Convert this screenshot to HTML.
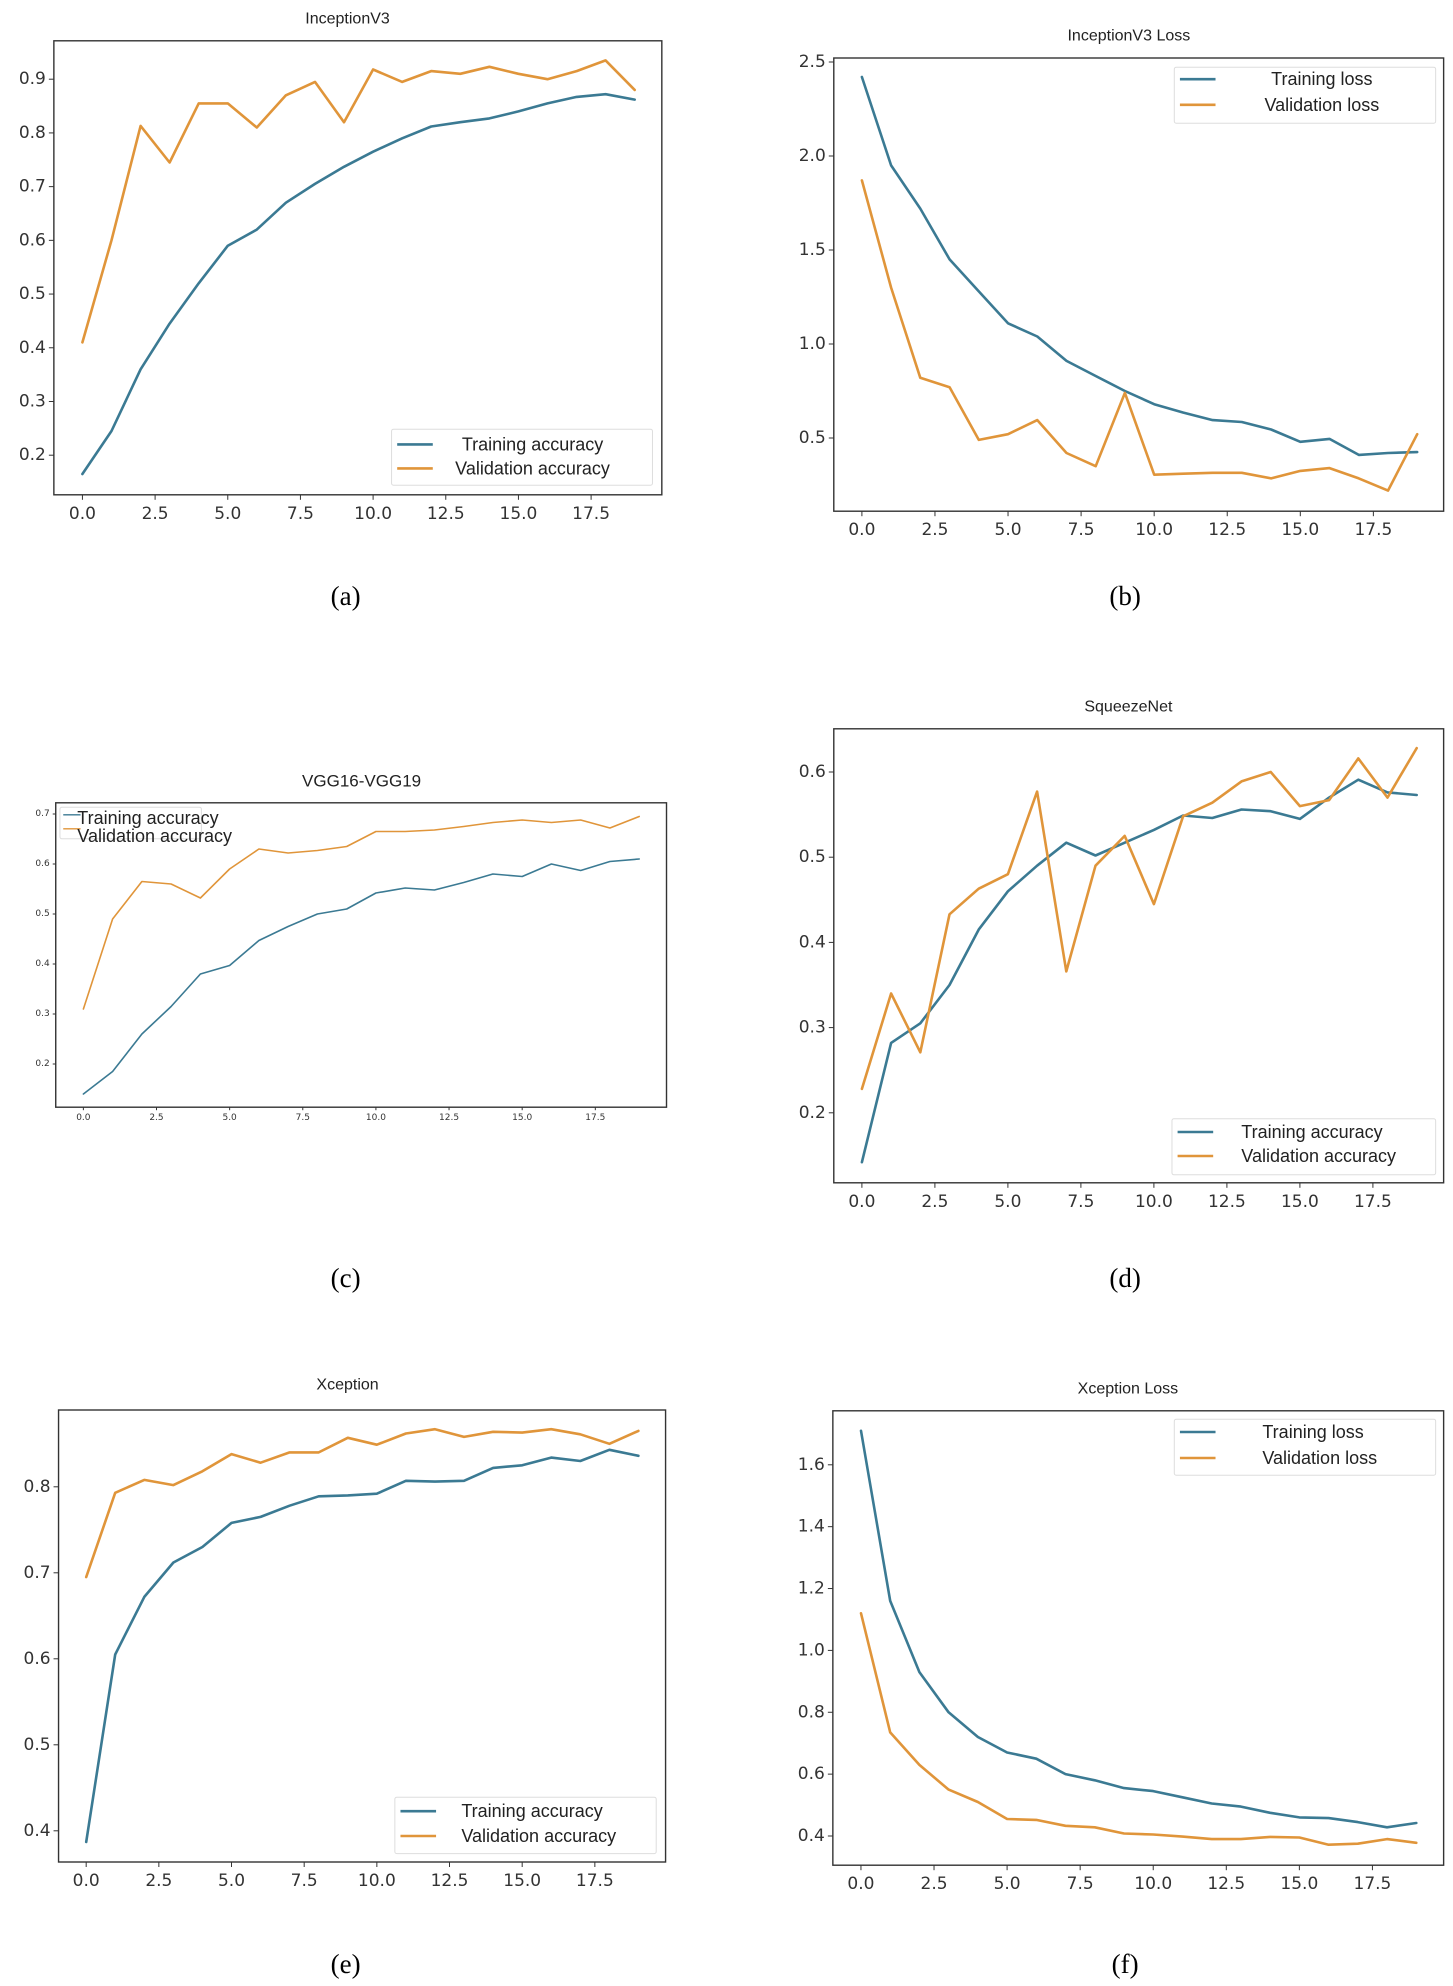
<!DOCTYPE html>
<html><head><meta charset="utf-8">
<style>
html,body{margin:0;padding:0;background:#fff;}
svg{display:block;}
text{font-family:"Liberation Sans",sans-serif;fill:#222;}
.tick{font-family:"DejaVu Sans","Liberation Sans",sans-serif;font-size:17px;fill:#333;}
.tickc{font-family:"DejaVu Sans","Liberation Sans",sans-serif;font-size:9px;fill:#333;}
.sub{font-family:"Liberation Serif",serif;font-size:27px;fill:#000;}
</style></head>
<body>
<svg id="fig" width="1453" height="1986" viewBox="0 0 1453 1986" xmlns="http://www.w3.org/2000/svg"></svg>
<script>
// ---- data ----
const epochs = [0,1,2,3,4,5,6,7,8,9,10,11,12,13,14,15,16,17,18,19];
const xTickVals = [0,2.5,5,7.5,10,12.5,15,17.5];
const xTickLabels = ["0.0","2.5","5.0","7.5","10.0","12.5","15.0","17.5"];

const aTrain = [0.165,0.245,0.36,0.445,0.52,0.59,0.62,0.67,0.705,0.737,0.765,0.79,0.812,0.82,0.827,0.84,0.855,0.867,0.872,0.862];
const aVal   = [0.41,0.6,0.813,0.745,0.855,0.855,0.81,0.87,0.895,0.82,0.918,0.895,0.915,0.91,0.923,0.91,0.9,0.915,0.935,0.88];
const aYTicks = [0.2,0.3,0.4,0.5,0.6,0.7,0.8,0.9];
const aYLabels = ["0.2","0.3","0.4","0.5","0.6","0.7","0.8","0.9"];

const bTrain = [2.42,1.95,1.72,1.45,1.28,1.11,1.04,0.91,0.83,0.75,0.68,0.635,0.595,0.585,0.545,0.48,0.495,0.41,0.42,0.425];
const bVal   = [1.87,1.3,0.82,0.77,0.49,0.52,0.595,0.42,0.35,0.74,0.305,0.31,0.315,0.315,0.285,0.325,0.34,0.285,0.22,0.52];
const bYTicks = [0.5,1.0,1.5,2.0,2.5];
const bYLabels = ["0.5","1.0","1.5","2.0","2.5"];

const cTrain = [0.14,0.185,0.26,0.315,0.38,0.397,0.447,0.475,0.5,0.51,0.542,0.552,0.548,0.563,0.58,0.575,0.6,0.587,0.605,0.61];
const cVal   = [0.31,0.49,0.565,0.56,0.532,0.59,0.63,0.622,0.627,0.635,0.665,0.665,0.668,0.675,0.683,0.688,0.683,0.688,0.672,0.695];
const cYTicks = [0.2,0.3,0.4,0.5,0.6,0.7];
const cYLabels = ["0.2","0.3","0.4","0.5","0.6","0.7"];

const dTrain = [0.142,0.282,0.305,0.35,0.415,0.46,0.49,0.517,0.502,0.517,0.532,0.549,0.546,0.556,0.554,0.545,0.57,0.591,0.576,0.573];
const dVal   = [0.228,0.34,0.271,0.433,0.463,0.48,0.577,0.366,0.49,0.525,0.445,0.548,0.564,0.589,0.6,0.56,0.567,0.616,0.57,0.628];
const dYTicks = [0.2,0.3,0.4,0.5,0.6];
const dYLabels = ["0.2","0.3","0.4","0.5","0.6"];

const eTrain = [0.387,0.605,0.672,0.712,0.73,0.758,0.765,0.778,0.789,0.79,0.792,0.807,0.806,0.807,0.822,0.825,0.834,0.83,0.843,0.836];
const eVal   = [0.695,0.793,0.808,0.802,0.818,0.838,0.828,0.84,0.84,0.857,0.849,0.862,0.867,0.858,0.864,0.863,0.867,0.861,0.85,0.865];
const eYTicks = [0.4,0.5,0.6,0.7,0.8];
const eYLabels = ["0.4","0.5","0.6","0.7","0.8"];

const fTrain = [1.71,1.16,0.93,0.8,0.72,0.67,0.65,0.6,0.58,0.555,0.545,0.525,0.505,0.495,0.475,0.46,0.458,0.445,0.428,0.442];
const fVal   = [1.12,0.735,0.63,0.55,0.51,0.455,0.452,0.433,0.428,0.408,0.405,0.398,0.39,0.39,0.397,0.395,0.372,0.375,0.39,0.378];
const fYTicks = [0.4,0.6,0.8,1.0,1.2,1.4,1.6];
const fYLabels = ["0.4","0.6","0.8","1.0","1.2","1.4","1.6"];

// ---- layout ----
const SX = 2.135, SY = 2.5;
const TEAL = "#3b7a93", ORANGE = "#e0953a";
const svg = document.getElementById('fig');
const NS = "http://www.w3.org/2000/svg";
function mk(tag, attrs, parent){
  const e = document.createElementNS(NS, tag);
  for (const k in attrs) e.setAttribute(k, attrs[k]);
  (parent||svg).appendChild(e);
  return e;
}

const panels = [
 {id:'a',ox:0,oy:0,box:[115,1413,102,1237],x0:176,x175:1262,yv:[0.9,198,0.2,1138],train:aTrain,val:aVal,yt:aYTicks,yl:aYLabels,
  title:'InceptionV3',tz:[742,47],tsize:16,names:['Training accuracy','Validation accuracy'],
  leg:{box:[836,1393,1073,1213],rows:[1111,1171],tx:1137,anchor:'middle'},sub:[738,1490],lw:2.6,small:false},
 {id:'b',ox:727,oy:0,box:[228,1530,145,1278],x0:288,x175:1380,yv:[2.5,155,0.5,1095],train:bTrain,val:bVal,yt:bYTicks,yl:bYLabels,
  title:'InceptionV3 Loss',tz:[858,90],tsize:16,names:['Training loss','Validation loss'],
  leg:{box:[955,1513,168,308],rows:[198,262],tx:1270,anchor:'middle'},sub:[850,1490],lw:2.6,small:false},
 {id:'c',ox:0,oy:680,box:[119,1423,307,1068],x0:178,x175:1271,yv:[0.7,335,0.2,960],train:cTrain,val:cVal,yt:cYTicks,yl:cYLabels,
  title:'VGG16-VGG19',tz:[772,253],tsize:17,names:['Training accuracy','Validation accuracy'],
  leg:{box:[128,430,318,397],rows:[337,372],tx:165,anchor:'start',rowsText:[345,390]},sub:[738,1495],lw:1.6,small:true},
 {id:'d',ox:727,oy:680,box:[228,1530,122,1257],x0:288,x175:1379,yv:[0.6,230,0.2,1082],train:dTrain,val:dVal,yt:dYTicks,yl:dYLabels,
  title:'SqueezeNet',tz:[857,68],tsize:16,names:['Training accuracy','Validation accuracy'],
  leg:{box:[950,1513,1097,1237],rows:[1130,1190],tx:1098,anchor:'start'},sub:[850,1495],lw:2.6,small:false},
 {id:'e',ox:0,oy:1366,box:[125,1421,110,1240],x0:184,x175:1270,yv:[0.8,302,0.4,1162],train:eTrain,val:eVal,yt:eYTicks,yl:eYLabels,
  title:'Xception',tz:[742,47],tsize:16,names:['Training accuracy','Validation accuracy'],
  leg:{box:[843,1401,1078,1219],rows:[1113,1175],tx:985,anchor:'start'},sub:[738,1495],lw:2.6,small:false},
 {id:'f',ox:727,oy:1366,box:[226,1530,112,1248],x0:286,x175:1378,yv:[1.6,247,0.4,1175],train:fTrain,val:fVal,yt:fYTicks,yl:fYLabels,
  title:'Xception Loss',tz:[856,57],tsize:16,names:['Training loss','Validation loss'],
  leg:{box:[955,1513,133,273],rows:[165,230],tx:1143,anchor:'start'},sub:[850,1495],lw:2.6,small:false}
];

panels.forEach(p => {
  const X = z => p.ox + z / SX;
  const Y = z => p.oy + z / SY;
  const xs = v => X(p.x0 + v * (p.x175 - p.x0) / 17.5);
  const ys = v => Y(p.yv[1] + (v - p.yv[0]) * (p.yv[3] - p.yv[1]) / (p.yv[2] - p.yv[0]));
  const g = mk('g', {});
  
  

  const L = X(p.box[0]), R = X(p.box[1]), T = Y(p.box[2]), B = Y(p.box[3]);
  const t = mk('text', {x: X(p.tz[0]), y: Y(p.tz[1]), 'text-anchor':'middle', 'dominant-baseline':'central', 'font-size': p.tsize}, g);
  t.textContent = p.title;
  
  

  const mkLine = (vals, color, nm) => {
    const d = vals.map((v, i) => (i ? 'L' : 'M') + xs(epochs[i]).toFixed(1) + ',' + ys(v).toFixed(1)).join(' ');
    const pl = mk('path', {d: d, fill:'none', stroke: color, 'stroke-width': p.lw, 'stroke-linejoin':'round', 'stroke-linecap':'round'}, g);
    
    
  };
  mkLine(p.train, TEAL, 'training-line');
  mkLine(p.val, ORANGE, 'validation-line');

  const fr = mk('rect', {x: L, y: T, width: R - L, height: B - T, fill:'none', stroke:'#333', 'stroke-width': 1.4}, g);
  
  

  const tcls = p.small ? 'tickc' : 'tick';
  const tlen = p.small ? 3 : 5;
  xTickVals.forEach((v, i) => {
    const x = xs(v);
    mk('line', {x1: x, x2: x, y1: B, y2: B + tlen, stroke:'#333', 'stroke-width':1}, g);
    const tx = mk('text', {x: x, y: B + (p.small ? 11 : 19), 'text-anchor':'middle', 'dominant-baseline':'central', class: tcls}, g);
    tx.textContent = xTickLabels[i];
    
    
  });
  p.yt.forEach((v, i) => {
    const y = ys(v);
    mk('line', {x1: L - tlen, x2: L, y1: y, y2: y, stroke:'#333', 'stroke-width':1}, g);
    const ty = mk('text', {x: L - tlen - 3, y: y, 'text-anchor':'end', 'dominant-baseline':'central', class: tcls}, g);
    ty.textContent = p.yl[i];
    
    
  });

  const lg = p.leg;
  const lb = mk('rect', {x: X(lg.box[0]), y: Y(lg.box[2]), width: (lg.box[1]-lg.box[0])/SX, height: (lg.box[3]-lg.box[2])/SY, fill:'#fff', 'fill-opacity':0.85, stroke:'#ddd', 'stroke-width':1, rx:2}, g);
  
  
  [TEAL, ORANGE].forEach((c, i) => {
    const ly = Y(lg.rows[i]);
    const x1 = p.small ? X(lg.box[0] + 7) : X(lg.box[0] + 12);
    const x2 = p.small ? X(lg.box[0] + 44) : X(lg.box[0] + 88);
    const ll = mk('line', {x1: x1, x2: x2, y1: ly, y2: ly, stroke: c, 'stroke-width': p.small ? 1.4 : 2.6}, g);
    
    
    const ty = lg.rowsText ? Y(lg.rowsText[i]) : ly;
    const txt = mk('text', {x: X(lg.tx), y: ty, 'text-anchor': lg.anchor, 'dominant-baseline':'central', 'font-size': 18}, g);
    txt.textContent = p.names[i];
    
    
  });

  const sl = mk('text', {x: X(p.sub[0]), y: Y(p.sub[1]), 'text-anchor':'middle', 'dominant-baseline':'central', class:'sub'}, svg);
  sl.textContent = '(' + p.id + ')';
  
  
});
</script>
</body></html>
